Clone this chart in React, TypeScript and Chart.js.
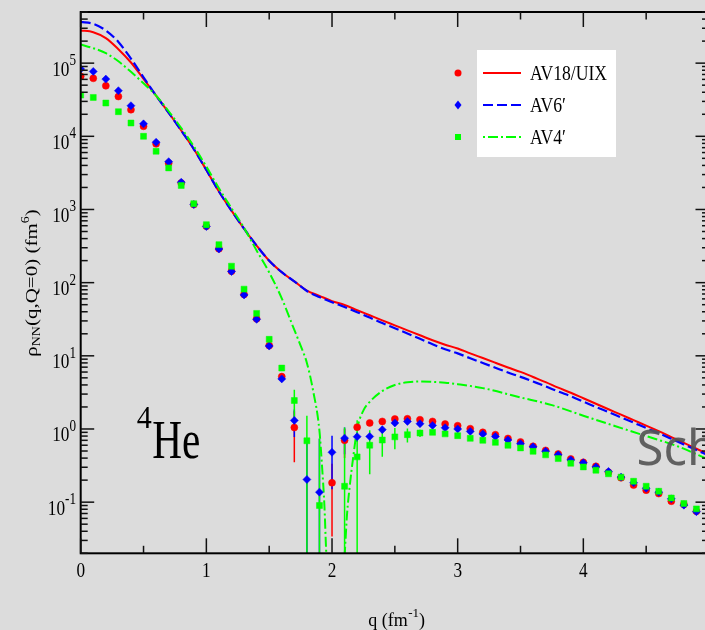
import React, { useEffect, useRef } from "react";
import { Chart, registerables } from "chart.js";

Chart.register(...registerables);

// ---------- data ----------
const pointQ = [
  0, 0.1, 0.2, 0.3, 0.4, 0.5, 0.6, 0.7, 0.8, 0.9,
  1.0, 1.1, 1.2, 1.3, 1.4, 1.5, 1.6, 1.7, 1.8, 1.9,
  2.0, 2.1, 2.2, 2.3, 2.4, 2.5, 2.6, 2.7, 2.8, 2.9,
  3.0, 3.1, 3.2, 3.3, 3.4, 3.5, 3.6, 3.7, 3.8, 3.9,
  4.0, 4.1, 4.2, 4.3, 4.4, 4.5, 4.6, 4.7, 4.8, 4.9,
];

const redPoints: (number | null)[] = [
  6.6e4, 6.2e4, 4.9e4, 3.5e4, 2.31e4, 1.37e4, 7.9e3, 4.3e3, 2.3e3, 1.17e3,
  590, 290, 143, 69, 32, 13.8, 5.2, 1.05, null, null,
  0.184, 0.7, 1.06, 1.21, 1.27, 1.37, 1.38, 1.34, 1.27, 1.17,
  1.11, 1.01, 0.9, 0.836, 0.743, 0.665, 0.58, 0.51, 0.456, 0.39,
  0.35, 0.309, 0.256, 0.215, 0.171, 0.146, 0.131, 0.103, 0.093, 0.075,
];
const bluePoints: (number | null)[] = [
  8.3e4, 7.7e4, 6.05e4, 4.2e4, 2.62e4, 1.48e4, 8.3e3, 4.5e3, 2.36e3, 1.17e3,
  585, 288, 142, 68, 31.5, 13.6, 4.84, 1.31, 0.204, 0.137,
  0.48, 0.75, 0.785, 0.79, 0.98, 1.21, 1.27, 1.18, 1.12, 1.04,
  1.0, 0.927, 0.855, 0.79, 0.708, 0.63, 0.57, 0.495, 0.443, 0.378,
  0.345, 0.303, 0.263, 0.22, 0.184, 0.155, 0.137, 0.111, 0.091, 0.074,
];
const greenPoints: (number | null)[] = [
  3.66e4, 3.4e4, 2.85e4, 2.17e4, 1.52e4, 1.0e4, 6.25e3, 3.7e3, 2.13e3, 1.2e3,
  620, 331, 168, 81.5, 38, 16.8, 6.8, 2.45, 0.69, 0.09,
  null, 0.165, 0.416, 0.6, 0.706, 0.78, 0.836, 0.88, 0.9, 0.857,
  0.81, 0.745, 0.7, 0.656, 0.598, 0.551, 0.495, 0.443, 0.394, 0.34,
  0.303, 0.273, 0.244, 0.22, 0.193, 0.165, 0.141, 0.114, 0.096, 0.081,
];

const redErr = [
  0, 0, 0, 0, 0, 0, 0, 0, 0, 0,
  0, 0, 0, 0, 0, 0, 0, 0.7, 0, 0,
  0.15, 0.3, 0, 0, 0, 0, 0, 0, 0, 0,
  0, 0, 0, 0, 0, 0, 0, 0, 0, 0,
  0, 0, 0, 0, 0, 0, 0, 0, 0, 0,
];
const blueErr = [
  0, 0, 0, 0, 0, 0, 0, 0, 0, 0,
  0, 0, 0, 0, 0, 0, 0, 0.53, 0.5, 0.6,
  0.33, 0.3, 0.12, 0, 0.1, 0, 0, 0, 0, 0,
  0, 0, 0, 0, 0, 0, 0, 0, 0, 0,
  0, 0, 0, 0, 0, 0, 0, 0, 0, 0,
];
const greenErr = [
  0, 0, 0, 0, 0, 0, 0, 0, 0, 0,
  0, 0, 0, 0, 0, 0, 0, 1.0, 0.83, 0.65,
  0, 0.88, 0.9, 0.36, 0.29, 0.25, 0.18, 0.1, 0.06, 0,
  0, 0, 0, 0, 0, 0, 0, 0, 0, 0,
  0, 0, 0, 0, 0, 0, 0, 0, 0, 0,
];

const curveQ = [
  0, 0.1, 0.2, 0.3, 0.4, 0.5, 0.6, 0.7, 0.8, 0.9,
  1.0, 1.1, 1.2, 1.3, 1.4, 1.5, 1.6, 1.7, 1.8, 1.9,
  2.0, 2.1, 2.2, 2.3, 2.4, 2.5, 2.6, 2.7, 2.8, 2.9,
  3.0, 3.1, 3.2, 3.3, 3.4, 3.5, 3.6, 3.7, 3.8, 3.9,
  4.0, 4.1, 4.2, 4.3, 4.4, 4.5, 4.6, 4.7, 4.8, 4.9, 5.0,
];
const redCurve = [
  2.8e5, 2.65e5, 2.2e5, 1.55e5, 1.02e5, 6.1e4, 3.6e4, 2.1e4, 1.2e4, 6.7e3,
  3.46e3, 1.76e3, 964, 546, 321, 199, 139, 104, 78, 66,
  56, 49.5, 42, 35.8, 30.5, 26.1, 22.3, 19.1, 16.3, 14.2,
  12.6, 10.8, 9.33, 8.04, 6.92, 6.03, 5.13, 4.37, 3.67, 3.13,
  2.63, 2.21, 1.86, 1.57, 1.32, 1.11, 0.933, 0.776, 0.646, 0.537, 0.447,
];
const blueCurve = [
  3.66e5, 3.45e5, 2.8e5, 1.95e5, 1.15e5, 6.4e4, 3.6e4, 2.1e4, 1.2e4, 6.7e3,
  3.46e3, 1.76e3, 964, 546, 321, 199, 139, 104, 77, 63.5,
  54, 46.5, 39.5, 33.3, 28, 23.8, 20.2, 17.1, 14.4, 12.3,
  10.8, 9.25, 7.98, 6.87, 5.92, 5.16, 4.45, 3.83, 3.25, 2.8,
  2.37, 2.0, 1.7, 1.44, 1.22, 1.03, 0.875, 0.735, 0.615, 0.515, 0.434,
];
const greenCurveQ = [
  0, 0.1, 0.2, 0.3, 0.4, 0.5, 0.6, 0.7, 0.8, 0.9,
  1.0, 1.1, 1.2, 1.3, 1.4, 1.5, 1.6, 1.7, 1.75, 1.8,
  1.85, 1.9, 1.92, 1.94, 1.95, 1.96, 2.03, 2.1, 2.12, 2.14,
  2.17, 2.2, 2.25, 2.3, 2.4, 2.5, 2.6, 2.7, 2.8, 2.9,
  3.0, 3.2, 3.5, 3.75, 4.0, 4.25, 4.5, 4.75, 5.0,
];
const greenCurve: (number | null)[] = [
  1.8e5, 1.6e5, 1.37e5, 1.06e5, 7.6e4, 5.3e4, 3.6e4, 2.2e4, 1.3e4, 7.3e3,
  3.85e3, 1.95e3, 1.04e3, 560, 275, 138, 61, 22.6, 13.8, 8.0,
  3.3, 0.94, 0.32, 0.085, 0.03, 0.012, null, 0.018, 0.07, 0.16,
  0.43, 1.0, 1.8, 2.35, 3.3, 4.0, 4.35, 4.46, 4.4, 4.3,
  4.1, 3.62, 2.7, 2.12, 1.52, 1.1, 0.8, 0.58, 0.38,
];

const xMajorTicks = [0, 1, 2, 3, 4, 5];
const xMinorTicks = [0.5, 1.5, 2.5, 3.5, 4.5];
const xTickLabels = ["0", "1", "2", "3", "4"];
const yDecadeExponents = [-1, 0, 1, 2, 3, 4, 5];
const yTickExponentLabels = ["-1", "0", "1", "2", "3", "4", "5"];
const seriesNames = ["AV18/UIX", "AV6\u2032", "AV4\u2032"];

// ---------- style ----------
const BG = "#dcdcdc";
const RED = "#ff0000";
const BLUE = "#0000ff";
const GREEN = "#00ff00";
const SERIF = '"Liberation Serif", "Times New Roman", Times, serif';
const SANS = '"Noto Sans", "Open Sans", sans-serif';

function drawText(
  ctx: CanvasRenderingContext2D,
  s: string,
  x: number,
  y: number,
  size: number,
  align: "left" | "center" | "right" = "left",
  sx = 1,
  family = SERIF
): number {
  ctx.save();
  ctx.font = `${size}px ${family}`;
  ctx.textAlign = "left";
  ctx.textBaseline = "alphabetic";
  const w = ctx.measureText(s).width * sx;
  const x0 = align === "center" ? x - w / 2 : align === "right" ? x - w : x;
  ctx.translate(x0, y);
  ctx.scale(sx, 1);
  ctx.fillText(s, 0, 0);
  ctx.restore();
  return w;
}

function measure(ctx: CanvasRenderingContext2D, s: string, size: number, sx = 1, family = SERIF) {
  ctx.save();
  ctx.font = `${size}px ${family}`;
  const w = ctx.measureText(s).width * sx;
  ctx.restore();
  return w;
}

function toXY(qs: number[], vs: (number | null)[]) {
  const out: { x: number; y: number | null }[] = [];
  qs.forEach((q, i) => out.push({ x: q, y: vs[i] }));
  return out;
}
function toXYNoNull(qs: number[], vs: (number | null)[]) {
  const out: { x: number; y: number }[] = [];
  qs.forEach((q, i) => {
    const v = vs[i];
    if (v != null) out.push({ x: q, y: v });
  });
  return out;
}

const decorPlugin = {
  id: "decor",
  beforeDraw(chart: any) {
    const ctx = chart.ctx as CanvasRenderingContext2D;
    ctx.save();
    ctx.fillStyle = BG;
    ctx.fillRect(0, 0, chart.width, chart.height);
    ctx.restore();
  },
  beforeDatasetsDraw(chart: any) {
    const ctx = chart.ctx as CanvasRenderingContext2D;
    const a = chart.chartArea;
    const xs = chart.scales.x;
    const ys = chart.scales.y;
    ctx.save();
    ctx.beginPath();
    ctx.rect(a.left, a.top, a.right - a.left, a.bottom - a.top);
    ctx.clip();
    ctx.lineWidth = 1.5;
    const sets: [(number | null)[], number[], string][] = [
      [redPoints, redErr, RED],
      [bluePoints, blueErr, BLUE],
      [greenPoints, greenErr, GREEN],
    ];
    for (const [vals, errs, col] of sets) {
      ctx.strokeStyle = col;
      vals.forEach((v, i) => {
        const e = errs[i];
        if (v == null || !e) return;
        const px = xs.getPixelForValue(pointQ[i]);
        const hi = ys.getPixelForValue(v + e);
        const lo = v - e > 0 ? ys.getPixelForValue(v - e) : a.bottom + 2;
        ctx.beginPath();
        ctx.moveTo(px, hi);
        ctx.lineTo(px, lo);
        ctx.stroke();
      });
    }
    ctx.restore();
  },
  afterDraw(chart: any) {
    const ctx = chart.ctx as CanvasRenderingContext2D;
    const a = chart.chartArea;
    const xs = chart.scales.x;
    const ys = chart.scales.y;
    ctx.save();

    // frame
    ctx.strokeStyle = "#000";
    ctx.lineWidth = 2;
    ctx.strokeRect(a.left, a.top, a.right - a.left, a.bottom - a.top);

    // ticks
    ctx.lineWidth = 1.5;
    ctx.strokeStyle = "#111";
    const seg = (x1: number, y1: number, x2: number, y2: number) => {
      ctx.beginPath();
      ctx.moveTo(x1, y1);
      ctx.lineTo(x2, y2);
      ctx.stroke();
    };
    xMajorTicks.forEach((v) => {
      const px = xs.getPixelForValue(v);
      seg(px, a.bottom, px, a.bottom - 15);
      seg(px, a.top, px, a.top + 15);
    });
    xMinorTicks.forEach((v) => {
      const px = xs.getPixelForValue(v);
      seg(px, a.bottom, px, a.bottom - 7.5);
      seg(px, a.top, px, a.top + 7.5);
    });
    const yMin = ys.min;
    const yMax = ys.max;
    for (let e = -2; e <= 5; e++) {
      for (let m = 1; m <= 9; m++) {
        const v = m * Math.pow(10, e);
        if (v < yMin * 0.999 || v > yMax * 1.001) continue;
        const py = ys.getPixelForValue(v);
        const len = m === 1 ? 13.5 : 7;
        seg(a.left, py, a.left + len, py);
        seg(a.right, py, a.right - len, py);
      }
    }

    // tick labels
    ctx.fillStyle = "#000";
    xTickLabels.forEach((lab, i) => {
      const px = xs.getPixelForValue(xMajorTicks[i]);
      drawText(ctx, lab, px, a.bottom + 23.5, 21, "center", 0.82);
    });
    yDecadeExponents.forEach((ex, i) => {
      const py = ys.getPixelForValue(Math.pow(10, ex));
      const sup = yTickExponentLabels[i];
      const wSup = measure(ctx, sup, 16, 0.82);
      const wBase = measure(ctx, "10", 21, 0.82);
      const right = 76;
      drawText(ctx, "10", right - wSup - wBase, py + 12.5, 21, "left", 0.82);
      drawText(ctx, sup, right - wSup, py + 2, 16, "left", 0.82);
    });

    // x axis title: q (fm^-1)
    {
      let x0 = 368.3;
      const base = 625.5;
      x0 += drawText(ctx, "q (fm", x0, base, 18, "left");
      x0 += drawText(ctx, "-1", x0 + 0.5, base - 9, 13, "left") + 0.5;
      drawText(ctx, ")", x0, base, 18, "left");
    }

    // y axis title: rho_NN(q,Q=0) (fm^6)
    {
      ctx.save();
      ctx.translate(36.7, 283);
      ctx.rotate(-Math.PI / 2);
      ctx.scale(1, 0.82);
      const parts: [string, number, number][] = [
        ["\u03c1", 21, 0],
        ["NN", 14, 4],
        ["(q,Q=0) (fm", 21, 0],
        ["6", 14, -10],
        [")", 21, 0],
      ];
      let total = 0;
      parts.forEach(([s, sz]) => (total += measure(ctx, s, sz)));
      let x0 = -total / 2;
      parts.forEach(([s, sz, dy]) => {
        x0 += drawText(ctx, s, x0, dy, sz, "left");
      });
      ctx.restore();
    }

    // 4He label
    drawText(ctx, "4", 136.7, 428.3, 32, "left", 0.94);
    drawText(ctx, "He", 152.2, 458.3, 55, "left", 0.75);

    // legend
    ctx.fillStyle = "#ffffff";
    ctx.fillRect(477, 50, 139, 107);
    const rows = [73, 105, 137];
    const mx = 458;
    // markers
    ctx.fillStyle = RED;
    ctx.beginPath();
    ctx.arc(mx, rows[0], 3.5, 0, Math.PI * 2);
    ctx.fill();
    ctx.fillStyle = BLUE;
    ctx.beginPath();
    ctx.moveTo(mx, rows[1] - 4.5);
    ctx.lineTo(mx + 3.5, rows[1]);
    ctx.lineTo(mx, rows[1] + 4.5);
    ctx.lineTo(mx - 3.5, rows[1]);
    ctx.closePath();
    ctx.fill();
    ctx.fillStyle = GREEN;
    ctx.fillRect(mx - 3, rows[2] - 3, 6, 6);
    // line samples
    const lineStyles: [string, number[]][] = [
      [RED, []],
      [BLUE, [10, 4]],
      [GREEN, [2, 3, 10, 3]],
    ];
    lineStyles.forEach(([col, dash], i) => {
      ctx.save();
      ctx.strokeStyle = col;
      ctx.lineWidth = 2;
      ctx.setLineDash(dash);
      seg(483, rows[i], 521, rows[i]);
      ctx.restore();
    });
    ctx.fillStyle = "#000";
    seriesNames.forEach((name, i) => {
      drawText(ctx, name, 530, rows[i] + 7, 21, "left", 0.84);
    });

    // watermark-like text
    ctx.fillStyle = "rgba(85,85,85,0.92)";
    drawText(ctx, "Sch", 636.5, 465, 49, "left", 1, SANS);

    ctx.restore();
  },
};

export default function App() {
  const ref = useRef<HTMLCanvasElement | null>(null);

  useEffect(() => {
    if (!ref.current) return;
    const chart = new Chart(ref.current, {
      type: "line",
      data: {
        datasets: [
          {
            type: "line",
            label: seriesNames[0],
            data: toXY(curveQ, redCurve),
            borderColor: RED,
            borderWidth: 2,
            pointRadius: 0,
            cubicInterpolationMode: "monotone",
            order: 8,
          } as any,
          {
            type: "line",
            label: seriesNames[1],
            data: toXY(curveQ, blueCurve),
            borderColor: BLUE,
            borderWidth: 2.2,
            borderDash: [10, 4],
            pointRadius: 0,
            cubicInterpolationMode: "monotone",
            order: 7,
          } as any,
          {
            type: "line",
            label: seriesNames[2],
            data: toXY(greenCurveQ, greenCurve),
            borderColor: GREEN,
            borderWidth: 2,
            borderDash: [10, 3, 2, 3],
            pointRadius: 0,
            spanGaps: false,
            cubicInterpolationMode: "monotone",
            order: 6,
          } as any,
          {
            type: "scatter",
            label: seriesNames[0] + " points",
            data: toXYNoNull(pointQ, redPoints),
            pointStyle: "circle",
            pointRadius: 3.5,
            backgroundColor: RED,
            borderColor: RED,
            borderWidth: 0.5,
            order: 3,
          } as any,
          {
            type: "scatter",
            label: seriesNames[1] + " points",
            data: toXYNoNull(pointQ, bluePoints),
            pointStyle: "rectRot",
            pointRadius: 4,
            backgroundColor: BLUE,
            borderColor: BLUE,
            borderWidth: 0.5,
            order: 2,
          } as any,
          {
            type: "scatter",
            label: seriesNames[2] + " points",
            data: toXYNoNull(pointQ, greenPoints),
            pointStyle: "rect",
            pointRadius: 4.2,
            backgroundColor: GREEN,
            borderColor: GREEN,
            borderWidth: 0.5,
            order: 1,
          } as any,
        ],
      },
      options: {
        responsive: false,
        animation: false,
        devicePixelRatio: 1,
        layout: { padding: { left: 0, top: 12, right: 21, bottom: 0 } },
        plugins: {
          legend: { display: false },
          tooltip: { enabled: false },
        },
        scales: {
          x: {
            type: "linear",
            min: 0,
            max: 5,
            grid: { display: false },
            border: { display: false },
            ticks: { display: false },
            afterFit: (s: any) => {
              s.height = 76.7;
            },
          },
          y: {
            type: "logarithmic",
            min: 0.02,
            max: 5e5,
            grid: { display: false },
            border: { display: false },
            ticks: { display: false },
            afterFit: (s: any) => {
              s.width = 80.7;
            },
          },
        },
      } as any,
      plugins: [decorPlugin as any],
    });
    return () => chart.destroy();
  }, []);

  return (
    <div
      style={{
        position: "fixed",
        left: 0,
        top: 0,
        width: 705,
        height: 630,
        overflow: "hidden",
        background: BG,
      }}
    >
      <canvas ref={ref} width={730} height={630} style={{ display: "block", width: 730, height: 630 }} />
    </div>
  );
}
